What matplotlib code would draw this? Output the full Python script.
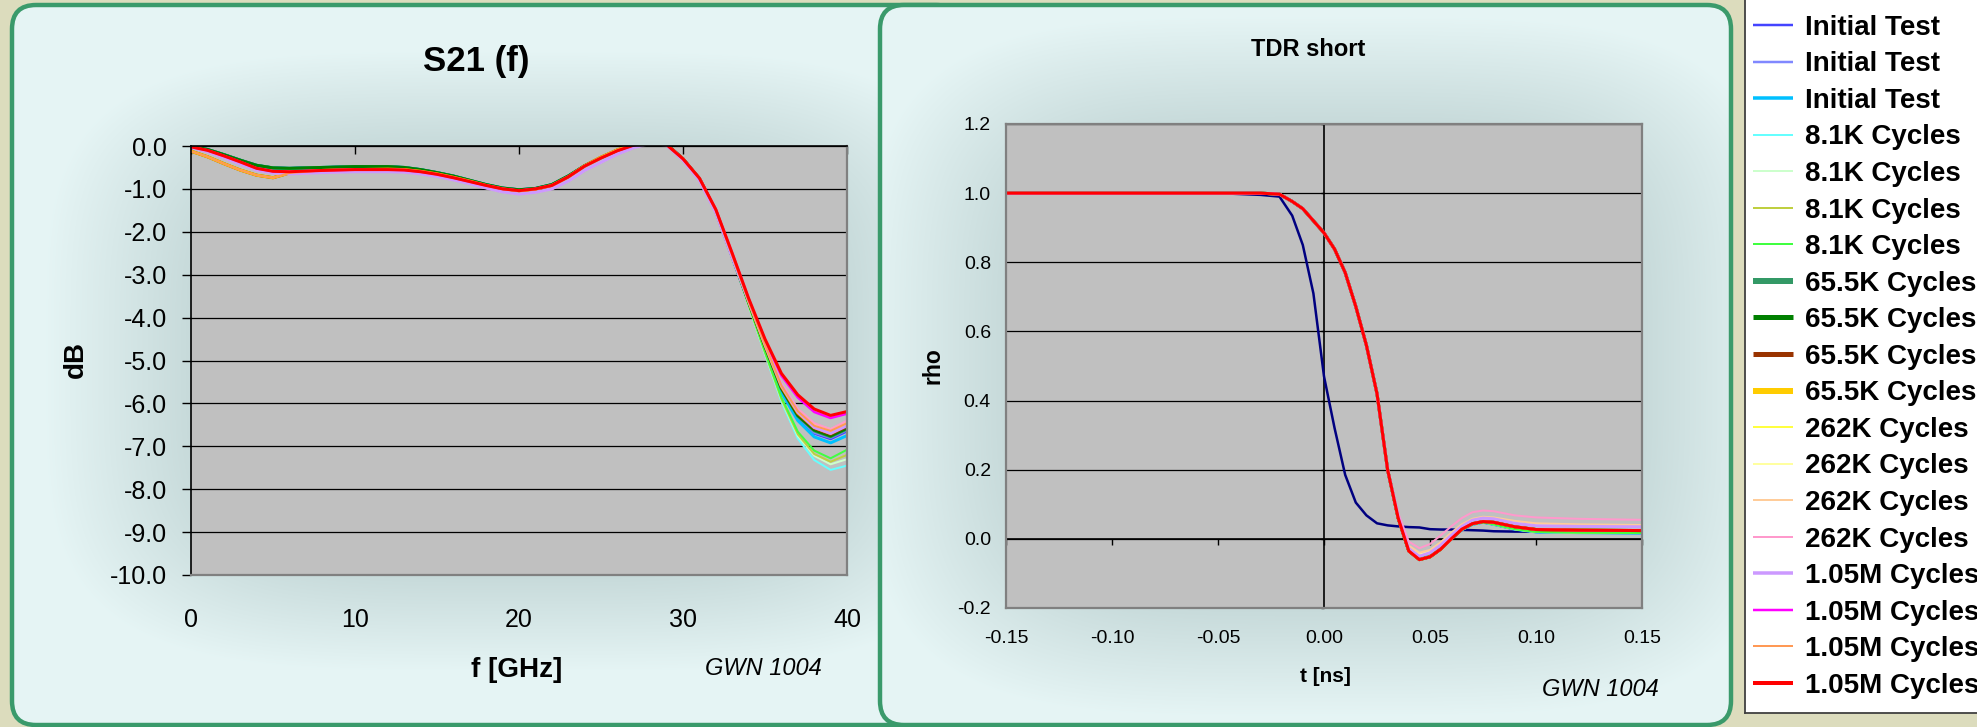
"""
S21(f) and TDR short plots for GWN 1004, with the shared cycle legend.
Writes out.png (1977 x 727 px).
"""

import numpy as np
import matplotlib
matplotlib.use("Agg")
import matplotlib.pyplot as plt
from matplotlib.patches import FancyBboxPatch
from matplotlib.ticker import FormatStrFormatter

plt.rcParams["font.family"] = ["Liberation Sans", "DejaVu Sans"]
plt.rcParams["axes.unicode_minus"] = False

W, H, DPI = 1977, 727, 100

# ============================================================
# SERIES (legend order)
# ============================================================

labels = (["Initial Test"] * 4 + ["8.1K Cycles"] * 4 + ["65.5K Cycles"] * 4
          + ["262K Cycles"] * 4 + ["1.05M Cycles"] * 4)

colors = ["#000080", "#4444ff", "#8088ff", "#00c0ff",
          "#66ffff", "#ccffcc", "#bfcf40", "#40ff40",
          "#339966", "#008000", "#993300", "#ffcc00",
          "#ffff40", "#ffffa0", "#ffcc99", "#ff99cc",
          "#cc99ff", "#ff00ff", "#ff9955", "#ff0000"]

legend_lw_px = [2.5, 2.5, 2.5, 3.5, 2, 2, 2, 2, 6, 5, 5, 6, 2, 2, 2, 2, 3.5, 2.5, 2, 4]

# ============================================================
# S21 (dB) vs f (GHz)
# ============================================================

freq_ghz = [0, 1, 2, 3, 4, 5, 6, 8, 10, 12, 13, 14, 15, 16, 17, 18, 19, 20, 21, 22,
            23, 24, 25, 26, 27, 28, 29, 30, 31, 32, 33, 34, 35, 36, 37, 38, 39, 40]

# 0 .. 33 GHz, where the traces lie on top of each other
s21_head_upper = [0.00, -0.08, -0.20, -0.33, -0.45, -0.51, -0.52, -0.50, -0.48, -0.48,
                  -0.50, -0.55, -0.62, -0.70, -0.80, -0.90, -0.98, -1.02, -0.99, -0.90,
                  -0.70, -0.46, -0.27, -0.10, 0.03, 0.10, 0.04, -0.30, -0.76, -1.52, -2.58]
s21_head_mid = [-0.02, -0.10, -0.23, -0.37, -0.52, -0.59, -0.60, -0.57, -0.55, -0.55,
                -0.56, -0.60, -0.66, -0.74, -0.83, -0.92, -1.00, -1.04, -1.00, -0.92,
                -0.72, -0.47, -0.28, -0.11, 0.02, 0.10, 0.03, -0.30, -0.75, -1.48, -2.50]
s21_head_low = [-0.12, -0.25, -0.41, -0.56, -0.68, -0.74, -0.63, -0.57, -0.55, -0.54,
                -0.55, -0.59, -0.65, -0.73, -0.82, -0.92, -1.00, -1.05, -1.01, -0.92,
                -0.72, -0.46, -0.26, -0.09, 0.04, 0.10, 0.03, -0.30, -0.76, -1.50, -2.55]
s21_head_pink = [-0.03, -0.13, -0.27, -0.42, -0.56, -0.63, -0.65, -0.62, -0.60, -0.60,
                 -0.61, -0.65, -0.71, -0.79, -0.88, -0.98, -1.07, -1.12, -1.08, -1.00,
                 -0.82, -0.57, -0.38, -0.19, -0.04, 0.06, 0.02, -0.33, -0.80, -1.55, -2.60]

# 34 .. 40 GHz, where the traces fan out
s21_tails = [
    [-3.64, -4.68, -5.66, -6.30, -6.66, -6.80, -6.60],
    [-3.65, -4.70, -5.70, -6.35, -6.70, -6.83, -6.65],
    [-3.64, -4.68, -5.68, -6.32, -6.68, -6.80, -6.62],
    [-3.66, -4.72, -5.74, -6.40, -6.78, -6.92, -6.75],
    [-3.72, -4.86, -5.96, -6.82, -7.32, -7.55, -7.45],
    [-3.71, -4.84, -5.92, -6.76, -7.22, -7.42, -7.30],
    [-3.70, -4.82, -5.90, -6.72, -7.18, -7.36, -7.20],
    [-3.70, -4.80, -5.86, -6.66, -7.10, -7.28, -7.08],
    [-3.64, -4.68, -5.66, -6.30, -6.64, -6.78, -6.60],
    [-3.64, -4.67, -5.65, -6.28, -6.62, -6.76, -6.58],
    [-3.62, -4.65, -5.62, -6.24, -6.58, -6.72, -6.54],
    [-3.62, -4.64, -5.60, -6.22, -6.56, -6.70, -6.50],
    [-3.61, -4.62, -5.58, -6.18, -6.54, -6.66, -6.48],
    [-3.60, -4.60, -5.55, -6.15, -6.50, -6.62, -6.44],
    [-3.60, -4.60, -5.55, -6.14, -6.48, -6.60, -6.42],
    [-3.60, -4.58, -5.52, -6.12, -6.46, -6.60, -6.40],
    [-3.61, -4.62, -5.58, -6.20, -6.56, -6.70, -6.52],
    [-3.56, -4.52, -5.35, -5.86, -6.20, -6.34, -6.24],
    [-3.61, -4.62, -5.58, -6.18, -6.52, -6.64, -6.46],
    [-3.55, -4.50, -5.30, -5.80, -6.13, -6.28, -6.19],
]

s21_heads = [s21_head_upper, s21_head_upper, s21_head_upper, s21_head_upper,
             s21_head_upper, s21_head_upper, s21_head_low, s21_head_upper,
             s21_head_upper, s21_head_upper, s21_head_low, s21_head_low,
             s21_head_mid, s21_head_pink, s21_head_pink, s21_head_pink,
             s21_head_pink, s21_head_mid, s21_head_low, s21_head_mid]

s21_db = [h + t for h, t in zip(s21_heads, s21_tails)]

s21_yticks = [0, -1, -2, -3, -4, -5, -6, -7, -8, -9, -10]
s21_xticks = [0, 10, 20, 30, 40]

# ============================================================
# TDR short: rho vs t (ns)
# ============================================================

t_ns = [-0.15, -0.10, -0.05, -0.03, -0.021, -0.015, -0.01, -0.005, 0.0, 0.005,
        0.01, 0.015, 0.02, 0.025, 0.03, 0.035, 0.04, 0.045, 0.05, 0.055,
        0.06, 0.065, 0.07, 0.075, 0.08, 0.09, 0.10, 0.12, 0.15]

tdr_fast = [1.0, 1.0, 1.0, 0.995, 0.99, 0.935, 0.85, 0.71, 0.47, 0.32,
            0.185, 0.105, 0.068, 0.045, 0.039, 0.036, 0.034, 0.033, 0.028, 0.027,
            0.027, 0.026, 0.025, 0.024, 0.022, 0.021, 0.021, 0.021, 0.021]

# -0.15 .. 0.03 ns, common to all the slow traces
tdr_head = [1.0, 1.0, 1.0, 1.0, 0.997, 0.976, 0.955, 0.92, 0.885, 0.838,
            0.77, 0.672, 0.56, 0.42, 0.20]

# 0.035 .. 0.15 ns
tdr_tail_main = [0.060, -0.035, -0.060, -0.052, -0.030, 0.000, 0.028, 0.044, 0.050, 0.048,
                 0.035, 0.027, 0.025, 0.024]
tdr_tail_low = [0.060, -0.035, -0.058, -0.050, -0.028, 0.000, 0.026, 0.042, 0.048, 0.042,
                0.028, 0.020, 0.018, 0.017]
tdr_tail_pink = [0.075, -0.008, -0.027, -0.015, 0.010, 0.036, 0.060, 0.077, 0.082, 0.080,
                 0.068, 0.062, 0.058, 0.055]
tdr_tail_peach = [0.068, -0.020, -0.040, -0.032, -0.010, 0.018, 0.042, 0.058, 0.064, 0.062,
                  0.052, 0.045, 0.042, 0.040]
tdr_tail_ltyellow = [0.066, -0.025, -0.045, -0.036, -0.014, 0.014, 0.038, 0.054, 0.060, 0.058,
                     0.048, 0.042, 0.040, 0.038]
tdr_tail_lavender = [0.064, -0.028, -0.050, -0.040, -0.018, 0.010, 0.036, 0.054, 0.060, 0.058,
                     0.045, 0.038, 0.036, 0.035]

tdr_tails = [None, tdr_tail_low, tdr_tail_low, tdr_tail_low,
             tdr_tail_low, tdr_tail_low, tdr_tail_low, tdr_tail_low,
             tdr_tail_main, tdr_tail_main, tdr_tail_main, tdr_tail_main,
             tdr_tail_main, tdr_tail_ltyellow, tdr_tail_peach, tdr_tail_pink,
             tdr_tail_lavender, tdr_tail_main, tdr_tail_main, tdr_tail_main]

tdr_rho = [tdr_fast if tail is None else tdr_head + tail for tail in tdr_tails]

tdr_xticks = [-0.15, -0.10, -0.05, 0.0, 0.05, 0.10, 0.15]
tdr_yticks = [-0.2, 0.0, 0.2, 0.4, 0.6, 0.8, 1.0, 1.2]

# ============================================================
# STYLE
# ============================================================

BEIGE = "#dcdcbd"
GREEN = "#3a9a6b"
PANEL_LIGHT = np.array([0.90, 0.96, 0.96])
PANEL_DARK = np.array([0.78, 0.855, 0.855])
PLOT_BG = "#c0c0c0"
BORDER = "#808080"
PX = 0.72  # points per pixel at 100 dpi


def px_rect(x0, y0, x1, y1):
    return [x0 / W, 1 - y1 / H, (x1 - x0) / W, (y1 - y0) / H]


fig = plt.figure(figsize=(W / DPI, H / DPI), dpi=DPI)
fig.patch.set_facecolor(BEIGE)

# background layer in pixel coordinates
bg = fig.add_axes([0, 0, 1, 1], zorder=0)
bg.axis("off")


def panel(x0, y0, x1, y1, plot_box, z):
    box = FancyBboxPatch((x0, y0), x1 - x0, y1 - y0,
                         boxstyle="round,pad=0,rounding_size=24",
                         fc="none", ec=GREEN, lw=3.2, zorder=z + 1)
    bg.add_patch(box)
    px0, py0, px1, py1 = plot_box
    cx, cy = (px0 + px1) / 2, (py0 + py1) / 2
    rx, ry = (px1 - px0) / 2, (py1 - py0) / 2
    yy, xx = np.mgrid[y0:y1, x0:x1]
    d = ((np.abs(xx - cx) / rx) ** 4 + (np.abs(yy - cy) / ry) ** 4) ** 0.25
    t = np.clip((d - 1.0) / 0.45, 0, 1)[..., None]
    img = PANEL_DARK * (1 - t) + PANEL_LIGHT * t
    im = bg.imshow(img, extent=(x0, x1, y1, y0), zorder=z, interpolation="bilinear")
    im.set_clip_path(box)


# left panel runs on under the right one, so its right-hand corners stay hidden
panel(12, 5, 960, 725, (191, 146, 847, 575), 1)
panel(880, 5, 1731, 725, (1006, 124, 1642, 608), 3)
bg.set_xlim(0, W)
bg.set_ylim(H, 0)
bg.set_aspect("auto")

# ============================================================
# S21 (f)
# ============================================================

L = (191, 146, 847, 575)
ax1 = fig.add_axes(px_rect(*L), zorder=2)
ax1.set_facecolor(PLOT_BG)
for ys, c, w in zip(s21_db, colors, legend_lw_px):
    ax1.plot(freq_ghz, ys, color=c, lw=min(w, 3.0) * PX, solid_joinstyle="round")
ax1.set_xlim(0, 40)
ax1.set_ylim(-10, 0)
ax1.set_xticks(s21_xticks)
ax1.set_yticks(s21_yticks)
ax1.yaxis.set_major_formatter(FormatStrFormatter("%.1f"))
ax1.yaxis.grid(True, color="black", lw=0.9)
for side in ("top", "left"):
    ax1.spines[side].set_color("black")
    ax1.spines[side].set_linewidth(1.2)
for side in ("right", "bottom"):
    ax1.spines[side].set_color(BORDER)
    ax1.spines[side].set_linewidth(1.6)
ax1.tick_params(axis="x", top=True, bottom=False, labeltop=False, labelbottom=True,
                direction="in", length=8 * PX, width=1.0, pad=24, labelsize=18)
ax1.tick_params(axis="y", direction="out", length=9 * PX, width=1.0, pad=10.8, labelsize=18)

lw_, lh_ = L[2] - L[0], L[3] - L[1]
ax1.set_title("S21 (f)", x=(476 - L[0]) / lw_, y=(L[3] - 71.5) / lh_, va="baseline",
              fontsize=25, fontweight="bold", pad=0)
ax1.set_xlabel("f [GHz]", fontsize=20, fontweight="bold", va="baseline")
ax1.xaxis.set_label_coords((517 - L[0]) / lw_, (L[3] - 677) / lh_)
ax1.set_ylabel("dB", fontsize=20, fontweight="bold", va="center", ha="center")
ax1.yaxis.set_label_coords((76 - L[0]) / lw_, (L[3] - 360) / lh_)
ax1.text((763 - L[0]) / lw_, (L[3] - 675) / lh_, "GWN 1004", transform=ax1.transAxes,
         ha="center", va="baseline", fontsize=17, fontstyle="italic")

# ============================================================
# TDR short
# ============================================================

R = (1006, 124, 1642, 608)
ax2 = fig.add_axes(px_rect(*R), zorder=2)
ax2.set_facecolor(PLOT_BG)
for ys, c, w in zip(tdr_rho, colors, legend_lw_px):
    ax2.plot(t_ns, ys, color=c, lw=min(w, 3.0) * PX, solid_joinstyle="round")
ax2.set_xlim(-0.15, 0.15)
ax2.set_ylim(-0.2, 1.2)
ax2.set_xticks(tdr_xticks)
ax2.set_yticks(tdr_yticks)
ax2.xaxis.set_major_formatter(FormatStrFormatter("%.2f"))
ax2.yaxis.set_major_formatter(FormatStrFormatter("%.1f"))
ax2.yaxis.grid(True, color="black", lw=0.9)
for side in ax2.spines:
    ax2.spines[side].set_color(BORDER)
    ax2.spines[side].set_linewidth(1.6)
ax2.tick_params(axis="x", length=0, pad=15.7, labelsize=14)
ax2.tick_params(axis="y", length=0, pad=10.8, labelsize=14)

# axis lines crossing at the origin
sec_x = ax2.secondary_xaxis((0 - (-0.2)) / 1.4)
sec_x.set_xticks(tdr_xticks)
sec_x.tick_params(direction="out", length=6 * PX, width=1.0, labelbottom=False, labeltop=False)
sec_x.spines["bottom"].set_color("black")
sec_x.spines["bottom"].set_linewidth(1.2)
sec_y = ax2.secondary_yaxis((0 - (-0.15)) / 0.3)
sec_y.set_alignment("left")
sec_y.set_yticks(tdr_yticks)
sec_y.tick_params(direction="out", length=3 * PX, width=1.0, labelleft=False, labelright=False)
sec_y.spines["left"].set_color("black")
sec_y.spines["left"].set_linewidth(1.2)

rw_, rh_ = R[2] - R[0], R[3] - R[1]
ax2.set_title("TDR short", x=(1308 - R[0]) / rw_, y=(R[3] - 56.5) / rh_, va="baseline",
              fontsize=17, fontweight="bold", pad=0)
ax2.set_xlabel("t [ns]", fontsize=15, fontweight="bold", va="baseline")
ax2.xaxis.set_label_coords((1325 - R[0]) / rw_, (R[3] - 682) / rh_)
ax2.set_ylabel("rho", fontsize=16.5, fontweight="bold", va="center", ha="center")
ax2.yaxis.set_label_coords((933 - R[0]) / rw_, (R[3] - 366) / rh_)
ax2.text((1600 - R[0]) / rw_, (R[3] - 696) / rh_, "GWN 1004", transform=ax2.transAxes,
         ha="center", va="baseline", fontsize=17, fontstyle="italic")

# ============================================================
# LEGEND (box runs off the top and right of the picture)
# ============================================================

ENTRY_Y0, ENTRY_STEP = -11.5, 36.55      # pixel y of first entry, pitch
LEG_TOP, LEG_BOTTOM, LEG_LEFT = -40, 713, 1745
lax = fig.add_axes(px_rect(LEG_LEFT, LEG_TOP, W + 10, LEG_BOTTOM), zorder=2)
lax.set_facecolor("white")
lax.set_xlim(0, W + 10 - LEG_LEFT)
lax.set_ylim((LEG_BOTTOM - ENTRY_Y0) / ENTRY_STEP, (LEG_TOP - ENTRY_Y0) / ENTRY_STEP)
lax.set_xticks([])
lax.set_yticks([])
for side in lax.spines:
    lax.spines[side].set_color("#404040")
    lax.spines[side].set_linewidth(1.3)
baseline_shift = 9.8 / ENTRY_STEP
for k, (lab, c, w) in enumerate(zip(labels, colors, legend_lw_px)):
    lax.plot([8, 48], [k, k], color=c, lw=w * PX, solid_capstyle="butt")
    lax.text(60, k + baseline_shift, lab, va="baseline", ha="left",
             fontsize=20, fontweight="bold", color="black")

fig.savefig("out.png", dpi=DPI, facecolor=fig.get_facecolor())
